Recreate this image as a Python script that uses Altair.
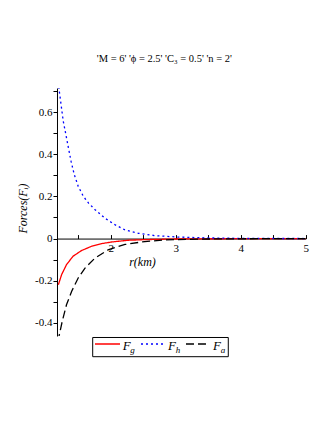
import altair as alt
import pandas as pd

# ---- data ----
series = ["F_g", "F_h", "F_a"]
colors = ["#ff0000", "#0000ff", "#000000"]
dashes = [[1, 0], [2, 3], [8, 4]]

r_g = [1.195, 1.245, 1.32, 1.42, 1.55, 1.71, 1.86, 2.02, 2.27, 2.53, 3.0, 3.5, 4.0, 4.5, 5.0]
F_g = [-0.219, -0.171, -0.124, -0.084, -0.057, -0.036, -0.024, -0.016, -0.008, -0.005,
       -0.002, -0.001, -0.0005, -0.0002, -0.0001]

r_h = [1.2, 1.236, 1.27, 1.31, 1.35, 1.39, 1.44, 1.50, 1.58, 1.66, 1.76, 1.91, 2.07, 2.22,
       2.43, 2.68, 3.04, 3.5, 4.0, 4.5, 5.0]
F_h = [0.72, 0.637, 0.557, 0.494, 0.43, 0.367, 0.303, 0.248, 0.2, 0.168, 0.137, 0.097, 0.065,
       0.041, 0.025, 0.014, 0.007, 0.003, 0.001, 0.0005, 0.0002]

r_a = [1.195, 1.205, 1.255, 1.32, 1.40, 1.50, 1.605, 1.76, 1.97, 2.22, 2.48, 2.84, 3.5, 4.0, 4.5, 5.0]
F_a = [-0.49, -0.463, -0.392, -0.314, -0.25, -0.187, -0.14, -0.092, -0.052, -0.028, -0.016,
       -0.006, -0.002, -0.001, -0.0005, -0.0002]

x_ticks = [1.5, 2, 2.5, 3, 3.5, 4, 4.5, 5]
x_labels = [2, 3, 4, 5]
y_ticks = [-0.4, -0.3, -0.2, -0.1, 0.0, 0.1, 0.2, 0.3, 0.4, 0.5, 0.6, 0.7]

title_text = "'M = 6' 'ϕ = 2.5' 'C₃ = 0.5' 'n = 2'"

rows = []
for name, rs, fs in [("F_g", r_g, F_g), ("F_h", r_h, F_h), ("F_a", r_a, F_a)]:
    for i, (r, f) in enumerate(zip(rs, fs)):
        rows.append({"r": r, "F": f, "series": name, "order": i})
df = pd.DataFrame(rows)

SERIF = "Liberation Serif"
W, H = 248.7, 248
XDOM = [1.174, 5]
YDOM = [-0.462, 0.714]
zero_from_top = H * YDOM[1] / (YDOM[1] - YDOM[0])

xscale = alt.Scale(domain=XDOM, nice=False, zero=False)
yscale = alt.Scale(domain=YDOM, nice=False, zero=False)

ylabel_expr = ("(round(datum.value*10) % 2 != 0) ? '' : (round(datum.value*10) == 0 ? '0' : "
               "(datum.value < 0 ? '-' : '') + format(abs(datum.value), '.1f'))")

lines = alt.Chart(df).mark_line(strokeWidth=1.3, clip=True).encode(
    x=alt.X("r:Q", scale=xscale, axis=alt.Axis(
        orient="bottom", offset=-(H - zero_from_top), values=x_labels, ticks=False,
        grid=False, domainColor="black", domainWidth=1, labelFont=SERIF, labelFontSize=11,
        labelColor="black", labelPadding=4, labelFlush=False, labelOverlap=False,
        format="d", title="r(km)", titleFont=SERIF, titleFontStyle="italic",
        titleFontWeight="normal", titleFontSize=12, titleColor="black",
        titleX=85, titleY=23, titleAlign="center", titleBaseline="middle")),
    y=alt.Y("F:Q", scale=yscale, axis=alt.Axis(
        orient="left", values=y_ticks, labelExpr=ylabel_expr, tickSize=4, tickColor="black",
        grid=False, domainColor="black", labelFont=SERIF, labelFontSize=11, labelColor="black",
        labelPadding=1, labelOverlap=False, labelFlush=False,
        title="Forces(Fᵢ)", titleFont=SERIF, titleFontStyle="italic",
        titleFontWeight="normal", titleFontSize=12, titleColor="black",
        titleX=-34, titleY=120, titleAngle=270, titleAlign="center", titleBaseline="middle")),
    color=alt.Color("series:N", scale=alt.Scale(domain=series, range=colors), legend=None),
    strokeDash=alt.StrokeDash("series:N", scale=alt.Scale(domain=series, range=dashes), legend=None),
    order="order:Q",
)

top_ticks = alt.Chart(df).mark_point(opacity=0).encode(
    x=alt.X("r:Q", scale=xscale, axis=alt.Axis(
        orient="top", offset=-zero_from_top, values=x_ticks, labels=False, domain=False,
        tickSize=4, tickColor="black", grid=False, title=None)),
)

one = pd.DataFrame({"k": [0]})
legend_layers = [
    alt.Chart(one).mark_rect(fill="white", stroke="black", strokeWidth=1).encode(
        x=alt.value(35.7), x2=alt.value(171.3), y=alt.value(249.5), y2=alt.value(268.7))
]
seg_x = [(38, 63), (84, 106), (129, 151)]
F_x = [65.7, 111, 156]
sub_x = [73.2, 118.7, 163.7]
subs = ["g", "h", "a"]
for i in range(3):
    legend_layers.append(
        alt.Chart(one).mark_rule(color=colors[i], strokeDash=dashes[i],
                                 strokeWidth=1.3).encode(
            x=alt.value(seg_x[i][0]), x2=alt.value(seg_x[i][1]), y=alt.value(256)))
    legend_layers.append(
        alt.Chart(one).mark_text(text="F", font=SERIF, fontStyle="italic", fontSize=13,
                                 align="left", baseline="alphabetic", color="black").encode(
            x=alt.value(F_x[i]), y=alt.value(262)))
    legend_layers.append(
        alt.Chart(one).mark_text(text=subs[i], font=SERIF, fontStyle="italic", fontSize=9,
                                 align="left", baseline="alphabetic", color="black").encode(
            x=alt.value(sub_x[i]), y=alt.value(265)))

chart = alt.layer(lines, top_ticks, *legend_layers).resolve_axis(x="independent").properties(
    width=W, height=H,
    autosize="none",
    padding={"left": 49, "top": 80, "right": 10, "bottom": 70},
    title=alt.TitleParams(title_text, font=SERIF, fontSize=10.5, fontWeight="normal",
                          color="black", anchor="middle", dx=-17, offset=12,
                          baseline="alphabetic"),
    background="white",
).configure_view(stroke=None)

chart.save("out.html", embed_options={"renderer": "svg", "actions": False})
